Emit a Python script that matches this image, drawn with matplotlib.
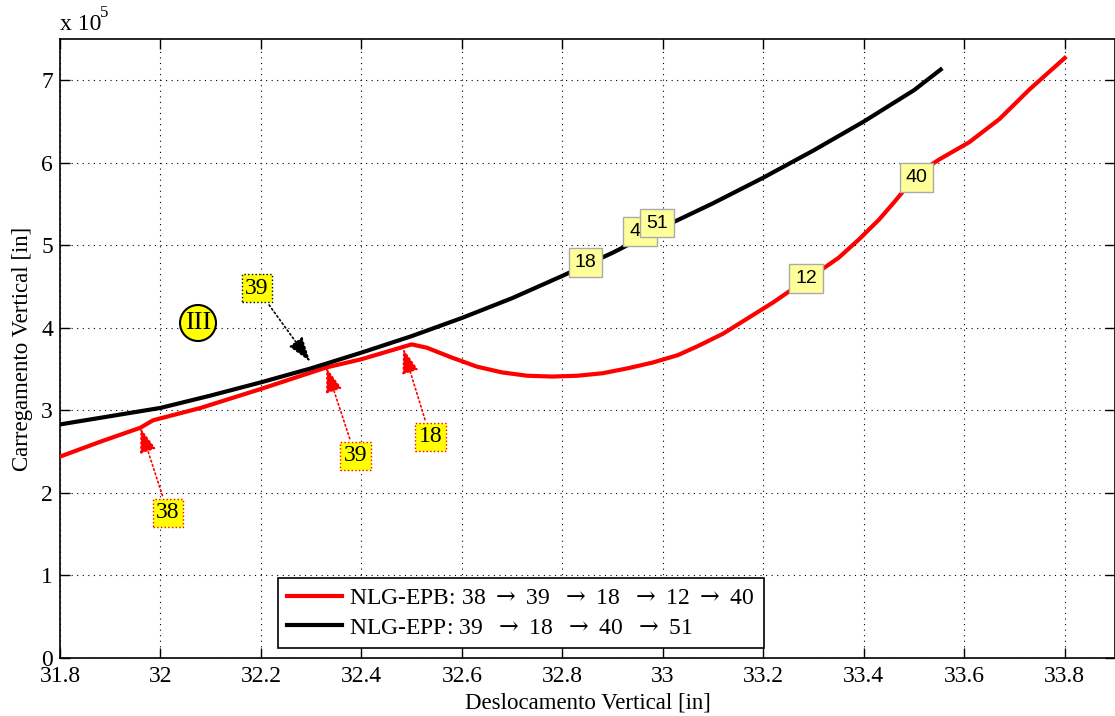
import matplotlib
matplotlib.use("Agg")
import matplotlib.pyplot as plt
from matplotlib.patches import Circle

plt.rcParams['font.family'] = ['Liberation Serif', 'DejaVu Serif']
plt.rcParams['mathtext.fontset'] = 'custom'
plt.rcParams['mathtext.rm'] = 'DejaVu Serif'
plt.rcParams['mathtext.it'] = 'DejaVu Serif:italic'
plt.rcParams['mathtext.bf'] = 'DejaVu Serif:bold'

# Load-displacement curves (load in units of 1e5)
epp_x = [31.80, 31.90, 32.00, 32.10, 32.20, 32.30, 32.40, 32.50, 32.60, 32.70,
         32.80, 32.90, 33.00, 33.10, 33.20, 33.30, 33.40, 33.50, 33.553]
epp_y = [2.83, 2.93, 3.03, 3.18, 3.34, 3.51, 3.70, 3.90, 4.12, 4.36,
         4.63, 4.91, 5.22, 5.51, 5.82, 6.15, 6.50, 6.88, 7.13]

epb_x = [31.80, 31.88, 31.96, 31.985, 32.08, 32.20, 32.33, 32.40, 32.50, 32.53,
         32.58, 32.63, 32.68, 32.73, 32.78, 32.83, 32.88, 32.93, 32.98, 33.03,
         33.07, 33.12, 33.17, 33.22, 33.27, 33.31, 33.35, 33.39, 33.43, 33.46,
         33.49, 33.52, 33.55, 33.61, 33.67, 33.73, 33.80]
epb_y = [2.44, 2.62, 2.79, 2.88, 3.03, 3.26, 3.52, 3.62, 3.80, 3.76,
         3.64, 3.53, 3.46, 3.42, 3.41, 3.42, 3.45, 3.51, 3.58, 3.67,
         3.78, 3.93, 4.12, 4.31, 4.52, 4.68, 4.85, 5.07, 5.31, 5.52,
         5.74, 5.92, 6.04, 6.25, 6.53, 6.89, 7.27]

# Element ids marked on the curves
red_marks = [("38", (32.015, 1.76), (31.96, 2.79)),
             ("39", (32.388, 2.45), (32.33, 3.52)),
             ("18", (32.537, 2.68), (32.483, 3.75))]
black_marks = [("39", (32.192, 4.48), (32.298, 3.59))]
tips = [("18", 32.846, 4.79), ("40", 32.955, 5.17), ("51", 32.988, 5.27),
        ("12", 33.285, 4.60), ("40", 33.505, 5.82)]

xticks = [31.8, 32.0, 32.2, 32.4, 32.6, 32.8, 33.0, 33.2, 33.4, 33.6, 33.8]
xticklabels = ["31.8", "32", "32.2", "32.4", "32.6", "32.8", "33", "33.2", "33.4", "33.6", "33.8"]
yticks = [0, 1, 2, 3, 4, 5, 6, 7]

arr = r'$\rightarrow$'
lab_epb = f'NLG-EPB: 38 {arr} 39  {arr} 18  {arr} 12 {arr} 40'
lab_epp = f'NLG-EPP: 39  {arr} 18  {arr} 40  {arr} 51'

fig = plt.figure(figsize=(11.15, 7.16), dpi=100)
ax = fig.add_axes([60/1115, 58/716, 1055/1115, 619/716])

ax.plot(epb_x, epb_y, color='#ff0000', lw=3, label=lab_epb, zorder=3)
ax.plot(epp_x, epp_y, color='black', lw=3, label=lab_epp, zorder=3)

ax.set_xlim(31.8, 33.9)
ax.set_ylim(0, 7.5)
ax.set_xticks(xticks)
ax.set_xticklabels(xticklabels)
ax.set_yticks(yticks)
ax.tick_params(direction='in', length=7, width=1, labelsize=17, top=True, right=True)
ax.tick_params(axis='x', pad=6)
ax.tick_params(axis='y', pad=5)
ax.grid(True, color='black', linestyle=(0, (1, 4)), linewidth=0.8)
for s in ax.spines.values():
    s.set_linewidth(1.2)

ax.set_xlabel('Deslocamento Vertical [in]', fontsize=16.5, labelpad=4)
ax.set_ylabel('Carregamento Vertical [in]', fontsize=16.5, labelpad=6)

# Axis multiplier
fig.text(60/1115, 1 - 30/716, 'x 10', fontsize=17, va='baseline', ha='left')
fig.text(100/1115, 1 - 17/716, '5', fontsize=12, va='baseline', ha='left')

for txt, tpos, hpos in red_marks:
    ax.annotate(txt, xy=hpos, xytext=tpos, fontsize=17, ha='center', va='center',
                bbox=dict(boxstyle='square,pad=0.15', fc='#ffff00', ec='#ff0000', ls=':'),
                arrowprops=dict(arrowstyle='-|>,head_length=0.9,head_width=0.3', color='#ff0000',
                                ls=':', lw=1.2, shrinkA=2, shrinkB=0), zorder=5)
for txt, tpos, hpos in black_marks:
    ax.annotate(txt, xy=hpos, xytext=tpos, fontsize=17, ha='center', va='center',
                bbox=dict(boxstyle='square,pad=0.15', fc='#ffff00', ec='black', ls=':'),
                arrowprops=dict(arrowstyle='-|>,head_length=0.9,head_width=0.3', color='black',
                                ls=':', lw=1.2, shrinkA=2, shrinkB=0), zorder=5)

# Circled region label
circ = Circle((198, 716 - 323), 18, transform=None, fc='#ffff00', ec='black', lw=1.5, zorder=5)
fig.patches.append(circ)
fig.text(198/1115, 1 - 323/716, 'III', fontsize=19, ha='center', va='center', zorder=6)

for txt, x, y in tips:
    ax.text(x, y, txt, fontsize=14, family=['Liberation Sans', 'DejaVu Sans'],
            ha='center', va='center', zorder=6,
            bbox=dict(boxstyle='square,pad=0.3', fc='#ffff99', ec='#aaaaaa', lw=1))

leg = ax.legend(loc='lower left', bbox_to_anchor=(0.2066, 0.016), fontsize=17,
                handlelength=2.3, handletextpad=0.3, borderpad=0.4, labelspacing=0.35,
                borderaxespad=0, fancybox=False, framealpha=1, edgecolor='black')
leg.get_frame().set_linewidth(1.2)

fig.savefig('out.png', dpi=100)
